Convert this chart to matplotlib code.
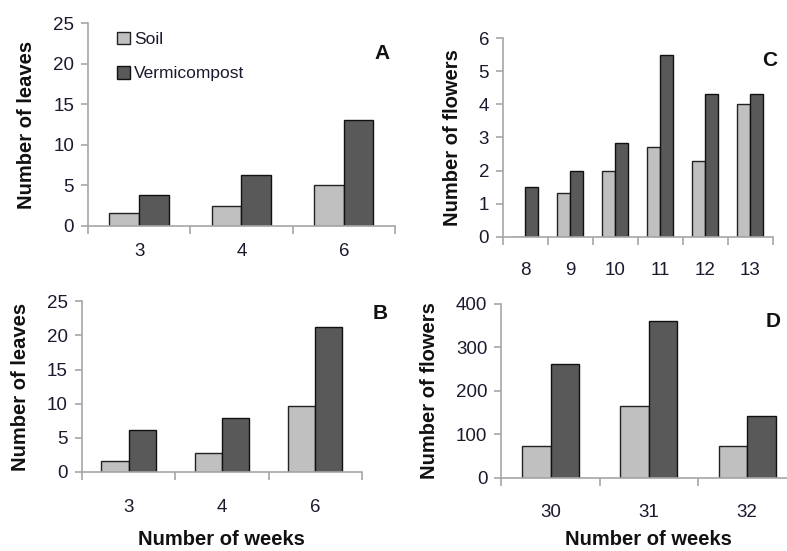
import matplotlib
matplotlib.use("Agg")
import matplotlib.pyplot as plt
import numpy as np

plt.rcParams['font.family'] = ['Liberation Sans', 'DejaVu Sans']

# panel A: leaves, weeks 3/4/6
weeks_a = ['3', '4', '6']
soil_a = [1.55, 2.5, 5.1]
verm_a = [3.85, 6.3, 13.0]

# panel B: leaves, weeks 3/4/6
weeks_b = ['3', '4', '6']
soil_b = [1.55, 2.8, 9.7]
verm_b = [6.2, 7.85, 21.2]

# panel C: flowers, weeks 8-13
weeks_c = ['8', '9', '10', '11', '12', '13']
soil_c = [0, 1.32, 2.0, 2.7, 2.3, 4.0]
verm_c = [1.5, 2.0, 2.82, 5.5, 4.3, 4.3]

# panel D: flowers, weeks 30-32
weeks_d = ['30', '31', '32']
soil_d = [74, 165, 74]
verm_d = [262, 360, 142]

SOIL = '#c0c0c0'
VERM = '#595959'
AXC = '#a6a6a6'
TXT = '#1a1a2e'

fig = plt.figure(figsize=(7.87, 5.51), dpi=100)


def panel(rect, cats, soil, verm, ymax, ystep, ylabel, letter, lpos, xlabel=None,
          xpad=14, xlpad=11, bw=0.29):
    ax = fig.add_axes(rect)
    x = np.arange(len(cats))
    ax.bar(x - bw / 2, soil, bw, color=SOIL, edgecolor='#222222', linewidth=1.0, label='Soil')
    ax.bar(x + bw / 2, verm, bw, color=VERM, edgecolor='#111111', linewidth=1.0, label='Vermicompost')
    ax.set_xlim(-0.5, len(cats) - 0.5)
    ax.set_ylim(0, ymax)
    ax.set_yticks(np.arange(0, ymax + ystep / 2, ystep))
    ax.set_xticks(x)
    ax.set_xticklabels(cats)
    ax.set_xticks(np.arange(-0.5, len(cats)), minor=True)
    ax.tick_params(axis='x', which='major', length=0, pad=xpad, labelsize=13.5, labelcolor=TXT)
    ax.tick_params(axis='x', which='minor', length=6, width=1.2, color=AXC, direction='out')
    ax.tick_params(axis='y', length=5, width=1.2, color=AXC, labelsize=13.5, labelcolor=TXT, pad=5)
    for s in ['top', 'right']:
        ax.spines[s].set_visible(False)
    for s in ['left', 'bottom']:
        ax.spines[s].set_color(AXC)
        ax.spines[s].set_linewidth(1.2)
    ax.set_ylabel(ylabel, fontsize=14.5, fontweight='bold', color='#111111', labelpad=12)
    if xlabel:
        ax.set_xlabel(xlabel, fontsize=14.5, fontweight='bold', color='#111111', labelpad=xlpad)
    ax.text(lpos[0], lpos[1], letter, transform=ax.transAxes, fontsize=15,
            fontweight='bold', ha='center', va='center', color='#111111')
    return ax


ax_a = panel([0.1118, 0.590, 0.390, 0.368], weeks_a, soil_a, verm_a, 25, 5,
             'Number of leaves', 'A', (0.957, 0.852), xpad=12)
ax_a.legend(loc='upper left', bbox_to_anchor=(0.06, 1.01), frameon=False,
            fontsize=12.5, handlelength=0.75, handleheight=0.75, handletextpad=0.25,
            labelspacing=1.1, borderaxespad=0.2, labelcolor=TXT)

panel([0.639, 0.570, 0.343, 0.361], weeks_c, soil_c, verm_c, 6, 1,
      'Number of flowers', 'C', (0.99, 0.889), xpad=18)

panel([0.104, 0.1434, 0.356, 0.310], weeks_b, soil_b, verm_b, 25, 5,
      'Number of leaves', 'B', (1.064, 0.93), xlabel='Number of weeks', xpad=19.5, xlpad=10)

panel([0.637, 0.1325, 0.375, 0.316], weeks_d, soil_d, verm_d, 400, 100,
      'Number of flowers', 'D', (0.92, 0.897), xlabel='Number of weeks', xpad=19, xlpad=6.5)

fig.savefig('out.png', dpi=100)
